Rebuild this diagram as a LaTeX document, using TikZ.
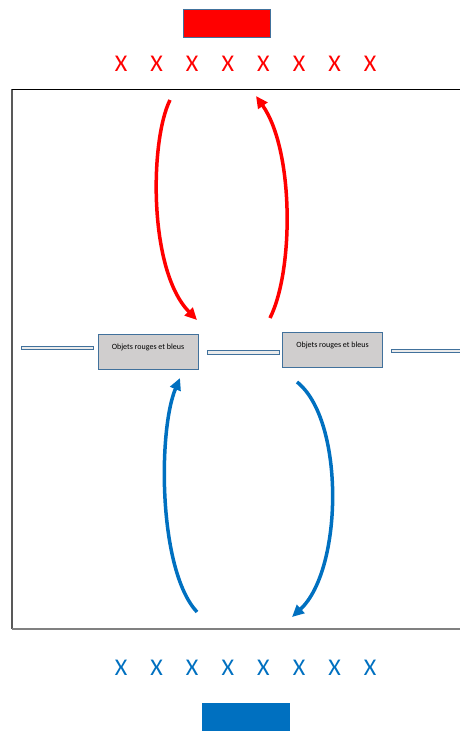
\documentclass[tikz,border=0pt]{standalone}
\usepackage{fontspec}
\setmainfont{Carlito}
\usetikzlibrary{arrows.meta}

\definecolor{boxgray}{HTML}{D0CECE}
\definecolor{edgeblue}{HTML}{41719C}
\definecolor{teamblue}{HTML}{0070C0}

\begin{document}
\begin{tikzpicture}[x=1pt, y=-1pt,
  objbox/.style={draw=edgeblue, fill=boxgray, line width=0.9pt, minimum width=100pt, minimum height=35pt, inner sep=0pt, font=\fontsize{8}{9}\selectfont, text height=6pt, text depth=10pt},
  bar/.style={draw=edgeblue, fill=black!8, line width=1pt, minimum width=72pt, minimum height=3.5pt, inner sep=0pt},
  team/.style={draw=edgeblue, line width=0.6pt, minimum width=87pt, minimum height=28pt, inner sep=0pt},
  cross/.style={font=\fontsize{24}{24}\selectfont, inner sep=0pt},
  swap/.style={line width=3.5pt, -{Triangle[length=12pt,width=11pt]}}]
\useasboundingbox (0,0) rectangle (460,731);

% field
\draw[black!65, line width=1.2pt] (12,89) -- (12,629);
\draw[black, line width=1pt] (12,89) -- (460,89);
\draw[black!50, line width=1.5pt] (12,629) -- (460,629);

% teams
\node[team, fill=red] (redteam) at (226.5,23) {};
\node[team, fill=teamblue, draw=teamblue, minimum height=32pt] (blueteam) at (246,719) {};

\foreach \i in {0,...,7}{
  \node[cross, text=red] (rx\i) at ({121+35.6*\i},64) {X};
  \node[cross, text=teamblue] (bx\i) at ({121+35.6*\i},668) {X};
}

% middle line
\node[bar] (barA) at (57.5,348) {};
\node[objbox] (left) at (148,351.5) {Objets rouges et bleus};
\node[bar] (barB) at (243,352.5) {};
\node[objbox] (right) at (332.5,349.5) {Objets rouges et bleus};
\node[bar] (barC) at (427,351) {};

% arrows
\coordinate (r1s) at (170,100);
\coordinate (r1e) at (197,320);
\coordinate (r2s) at (270,318);
\coordinate (r2e) at (256,96);
\coordinate (b1s) at (197,612);
\coordinate (b1e) at (180,378);
\coordinate (b2s) at (297,382);
\coordinate (b2e) at (292,617);

\draw[swap, red] (r1s) .. controls (150,140) and (148,270) .. (r1e);
\draw[swap, red] (r2s) .. controls (294,270) and (294,150) .. (r2e);
\draw[swap, teamblue] (b1s) .. controls (158,570) and (158,430) .. (b1e);
\draw[swap, teamblue] (b2s) .. controls (345,420) and (343,570) .. (b2e);

\end{tikzpicture}
\end{document}
